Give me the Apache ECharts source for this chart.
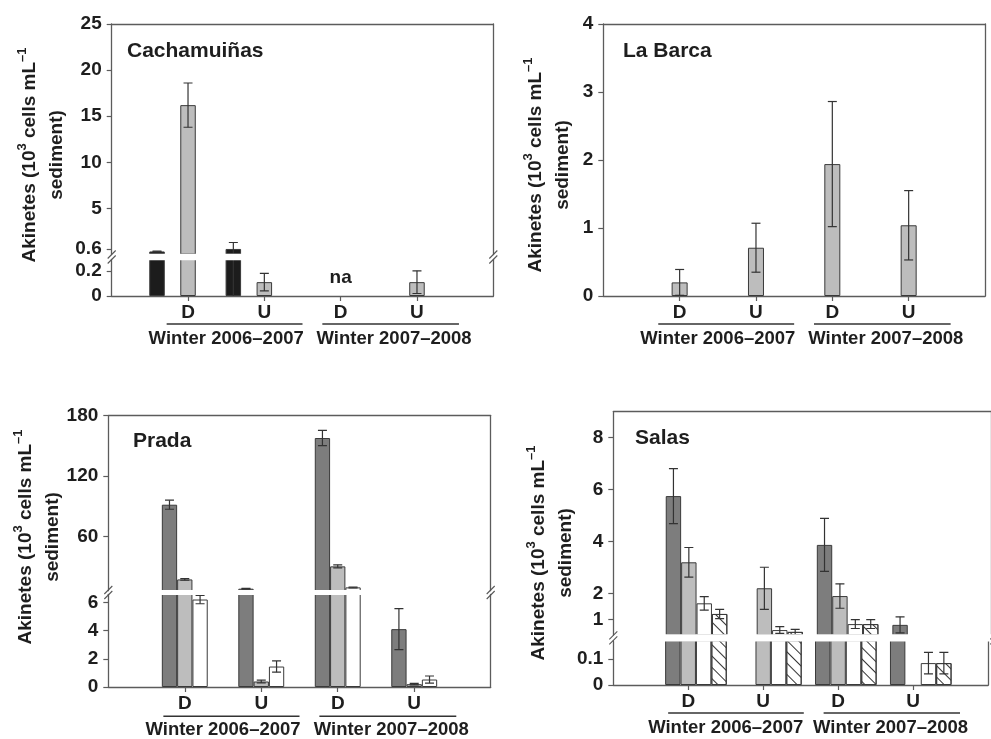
<!DOCTYPE html>
<html>
<head>
<meta charset="utf-8">
<script src="https://cdn.jsdelivr.net/npm/echarts@6/dist/echarts.min.js"></script>
<style>html,body{margin:0;padding:0;background:#fff}#c{width:991px;height:739px}</style>
</head>
<body>
<div id="c"></div>
<script>
// ---------- DATA ----------
const categories = ['', 'D', 'U', 'D', 'U', ''];
const groupLabels = ['Winter 2006–2007', 'Winter 2007–2008'];
const groupLabelPos = [1.5, 3.7];

// Cachamuiñas (order: D 06-07, U 06-07, D 07-08, U 07-08)
const cachBlack = [0.33, 0.6, '-', '-'];
const cachBlackErr = [0.03, 0.7, 0, 0];
const cachGray = [16.2, 0.11, 0, 0.11];
const cachGrayErr = [2.4, 0.07, 0, 0.09];
const cachNotes = ['', '', 'na', ''];
const cachUpperTicks = [0.6, 5, 10, 15, 20, 25];
const cachLowerTicks = [0, 0.2];

// La Barca
const barcaGray = [0.2, 0.71, 1.94, 1.04];
const barcaGrayErr = [0.19, 0.36, 0.92, 0.51];
const barcaTicks = [0, 1, 2, 3, 4];

// Prada
const pradaDark = [91.5, 8, 157.8, 4.1];
const pradaDarkErr = [4.5, 0.4, 7.6, 1.45];
const pradaLight = [17.2, 0.39, 30.2, 0.2];
const pradaLightErr = [0.8, 0.1, 1.5, 0.05];
const pradaWhite = [6.2, 1.45, 9.3, 0.53];
const pradaWhiteErr = [0.3, 0.4, 0.4, 0.25];
const pradaUpperTicks = [60, 120, 180];
const pradaLowerTicks = [0, 2, 4, 6];

// Salas
const salasDark = [5.75, '-', 3.87, 0.79];
const salasDarkErr = [1.06, 0, 1.02, 0.31];
const salasLight = [3.2, 2.2, 1.9, '-'];
const salasLightErr = [0.57, 0.81, 0.47, 0];
const salasWhite = [1.62, 0.59, 0.82, 0.085];
const salasWhiteErr = [0.26, 0.13, 0.17, 0.042];
const salasHatch = [1.21, 0.52, 0.82, 0.085];
const salasHatchErr = [0.18, 0.1, 0.17, 0.042];
const salasUpperTicks = [1, 2, 4, 6, 8];
const salasLowerTicks = [0, 0.1];

// ---------- STYLE ----------
const FONT = '"Liberation Sans", Arial, Helvetica, sans-serif';
const INK = '#1e1e1e';
const AXIS = '#5c5c5c';
const C_BLACK = '#1c1c1c', C_DARK = '#7d7d7d', C_LIGHT = '#bdbdbd', C_WHITE = '#ffffff';
const HATCH = { symbol: 'rect', symbolSize: 1, dashArrayX: [1, 0], dashArrayY: [1, 6.5], rotation: Math.PI / 4, color: '#333' };

const option = { animation: false, backgroundColor: '#fff', grid: [], xAxis: [], yAxis: [], series: [], title: [], graphic: [] };

// group-label axis: fine positions (step 0.1 over 0..5)
const groupAxisData = [];
for (let i = 0; i <= 50; i++) groupAxisData.push('');
groupLabels.forEach((g, k) => { groupAxisData[Math.round(groupLabelPos[k] * 10)] = g; });

const labelText = { fontFamily: FONT, fontWeight: 'bold', fontSize: 19, color: INK };
const groupText = { fontFamily: FONT, fontWeight: 'bold', fontSize: 18.5, color: INK };
const frameLine = { show: true, onZero: false, lineStyle: { color: AXIS, width: 1.3 } };

function addPanel(P) {
  const segs = P.segments; // bottom -> top
  const n = segs.length;
  const lowerMax = n > 1 ? segs[0].max : Infinity;
  segs.forEach((seg, si) => {
    const gi = option.grid.length;
    const isBottom = si === 0, isTop = si === n - 1;
    option.grid.push({ left: P.left, width: P.width, top: seg.top, height: seg.bottom - seg.top });
    const xi = option.xAxis.length;
    option.xAxis.push({
      type: 'category', gridIndex: gi, data: categories, boundaryGap: false, position: 'bottom',
      axisLine: Object.assign({}, frameLine, { show: isBottom }),
      axisTick: { show: isBottom, length: 5, interval: (i, v) => v !== '', lineStyle: { color: AXIS, width: 1.2 } },
      axisLabel: Object.assign({ show: isBottom, interval: 0, margin: 7 }, labelText),
      splitLine: { show: false }
    });
    if (isTop) {
      option.xAxis.push({
        type: 'category', gridIndex: gi, data: categories, boundaryGap: false, position: 'top',
        axisLine: frameLine, axisTick: { show: false }, axisLabel: { show: false }, splitLine: { show: false }
      });
    }
    if (isBottom) {
      option.xAxis.push({
        type: 'category', gridIndex: gi, data: groupAxisData, boundaryGap: false, position: 'bottom', offset: 29,
        axisLine: { show: false, onZero: false }, axisTick: { show: false },
        axisLabel: Object.assign({ interval: 0, margin: 4 }, groupText), splitLine: { show: false }
      });
    }
    const yi = option.yAxis.length;
    option.yAxis.push({
      type: 'value', gridIndex: gi, min: seg.min, max: seg.max, position: 'left',
      axisLine: frameLine,
      axisTick: { show: true, length: 5, customValues: seg.ticks, lineStyle: { color: AXIS, width: 1.2 } },
      axisLabel: Object.assign({ customValues: seg.ticks, margin: 10 }, labelText),
      splitLine: { show: false }
    });
    option.yAxis.push({
      type: 'value', gridIndex: gi, position: 'right',
      axisLine: frameLine, axisTick: { show: false }, axisLabel: { show: false }, splitLine: { show: false }
    });
    const inSeg = v => typeof v === 'number' && (!(isTop && n > 1) || v > lowerMax);
    P.series.forEach(s => {
      const vals = s.vals || [];
      const data = ['-'];
      for (let i = 0; i < 4; i++) {
        const v = vals[i];
        if (!inSeg(v)) { data.push('-'); continue; }
        const note = s.notes && s.notes[i];
        if (note) {
          data.push({ value: v, itemStyle: { borderWidth: 0 },
            label: Object.assign({ show: true, position: 'top', distance: 9, formatter: note }, labelText) });
        } else data.push(v);
      }
      data.push('-');
      option.series.push({
        type: 'bar', xAxisIndex: xi, yAxisIndex: yi, data, barWidth: P.barWidth, barGap: '0%', silent: true,
        itemStyle: { color: s.color || 'rgba(0,0,0,0)', borderColor: '#3a3a3a', borderWidth: s.vals ? 1 : 0, decal: s.decal || null }
      });
      if (!s.vals) return;
      const offset = (s.slot - (P.series.length - 1) / 2) * P.barWidth;
      const edata = [];
      vals.forEach((v, i) => {
        if (inSeg(v) && s.errs[i] > 0) edata.push([i + 1, v, s.errs[i]]);
      });
      option.series.push({
        type: 'custom', xAxisIndex: xi, yAxisIndex: yi, clip: true, silent: true, z: 5, data: edata,
        renderItem: (params, api) => {
          const xv = api.value(0), v = api.value(1), e = api.value(2);
          const x = api.coord([xv, v])[0] + offset;
          const hi = api.coord([xv, v + e])[1];
          const lo = api.coord([xv, v - e])[1];
          const cw = 4.5, st = { stroke: '#333', lineWidth: 1.2 };
          return { type: 'group', children: [
            { type: 'line', shape: { x1: x, y1: hi, x2: x, y2: lo }, style: st },
            { type: 'line', shape: { x1: x - cw, y1: hi, x2: x + cw, y2: hi }, style: st },
            { type: 'line', shape: { x1: x - cw, y1: lo, x2: x + cw, y2: lo }, style: st }
          ] };
        }
      });
    });
  });

  // title
  option.title.push({ text: P.title, left: P.titlePos[0], top: P.titlePos[1], padding: 0,
    textStyle: { fontFamily: FONT, fontWeight: 'bold', fontSize: 21, color: INK } });

  // y axis name (two lines, rotated)
  option.graphic.push({
    type: 'text', x: P.nameCenter[0], y: P.nameCenter[1], rotation: Math.PI / 2, silent: true,
    style: {
      text: '{a|Akinetes (10}{s|3}{a| cells mL}{s|–1}\n{a|sediment)}',
      align: 'center', verticalAlign: 'middle', fill: INK,
      rich: {
        a: { fontFamily: FONT, fontWeight: 'bold', fontSize: 19, lineHeight: 27, fill: INK },
        s: { fontFamily: FONT, fontWeight: 'bold', fontSize: 13, lineHeight: 27, verticalAlign: 'top', fill: INK }
      }
    }
  });

  // group underlines
  const bottom = segs[0].bottom;
  const step = P.width / 5;
  [[0.72, 2.5], [2.76, 4.55]].forEach(r => {
    option.graphic.push({ type: 'line', silent: true,
      shape: { x1: P.left + r[0] * step, y1: bottom + 28, x2: P.left + r[1] * step, y2: bottom + 28 },
      style: { stroke: '#333', lineWidth: 1.5 } });
  });

  // axis break: white band through the bars, and slanted marks on both frame sides
  if (n > 1) {
    const gTop = segs[1].bottom, gBot = segs[0].top;
    option.graphic.push({ type: 'rect', silent: true, z: 50,
      shape: { x: P.left + 1, y: gTop - 0.8, width: P.width - 2, height: gBot - gTop + 1.6 },
      style: { fill: '#fff' } });
    const yc = (gTop + gBot) / 2;
    [P.left, P.left + P.width].forEach(x => {
      [-2.5, 2.5].forEach(k => {
        option.graphic.push({ type: 'line', silent: true, z: 51,
          shape: { x1: x - 4, y1: yc + k + 4, x2: x + 4, y2: yc + k - 4 },
          style: { stroke: '#555', lineWidth: 1.1 } });
      });
    });
  }
}

addPanel({
  title: 'Cachamuiñas', titlePos: [127, 41], nameCenter: [43, 155],
  left: 111.7, width: 381.6, barWidth: 15.5,
  segments: [
    { top: 259.5, bottom: 296, min: 0, max: 0.29, ticks: cachLowerTicks },
    { top: 24, bottom: 254.5, min: 0, max: 25, ticks: cachUpperTicks }
  ],
  series: [
    { slot: 0, vals: cachBlack, errs: cachBlackErr, color: C_BLACK },
    { slot: 1 },
    { slot: 2, vals: cachGray, errs: cachGrayErr, color: C_LIGHT, notes: cachNotes },
    { slot: 3 },
    { slot: 4 }
  ]
});

addPanel({
  title: 'La Barca', titlePos: [623, 41], nameCenter: [549, 165],
  left: 603.3, width: 381.7, barWidth: 16,
  segments: [ { top: 24, bottom: 296, min: 0, max: 4, ticks: barcaTicks } ],
  series: [ { slot: 0, vals: barcaGray, errs: barcaGrayErr, color: C_LIGHT } ]
});

addPanel({
  title: 'Prada', titlePos: [133, 431], nameCenter: [39, 537],
  left: 108.3, width: 382.4, barWidth: 15.3,
  segments: [
    { top: 594.3, bottom: 688.3, min: 0, max: 6.57, ticks: pradaLowerTicks },
    { top: 415.7, bottom: 590.7, min: 6, max: 180, ticks: pradaUpperTicks }
  ],
  series: [
    { slot: 0, vals: pradaDark, errs: pradaDarkErr, color: C_DARK },
    { slot: 1, vals: pradaLight, errs: pradaLightErr, color: C_LIGHT },
    { slot: 2, vals: pradaWhite, errs: pradaWhiteErr, color: C_WHITE }
  ]
});

addPanel({
  title: 'Salas', titlePos: [635, 428], nameCenter: [552, 553],
  left: 613.3, width: 381, barWidth: 15.4,
  segments: [
    { top: 640.7, bottom: 685, min: 0, max: 0.172, ticks: salasLowerTicks },
    { top: 411.7, bottom: 635, min: 0.4, max: 9, ticks: salasUpperTicks }
  ],
  series: [
    { slot: 0 },
    { slot: 1, vals: salasDark, errs: salasDarkErr, color: C_DARK },
    { slot: 2, vals: salasLight, errs: salasLightErr, color: C_LIGHT },
    { slot: 3, vals: salasWhite, errs: salasWhiteErr, color: C_WHITE },
    { slot: 4, vals: salasHatch, errs: salasHatchErr, color: C_WHITE, decal: HATCH }
  ]
});

const chart = echarts.init(document.getElementById('c'), null, { renderer: 'canvas' });
chart.setOption(option);
</script>
</body>
</html>
